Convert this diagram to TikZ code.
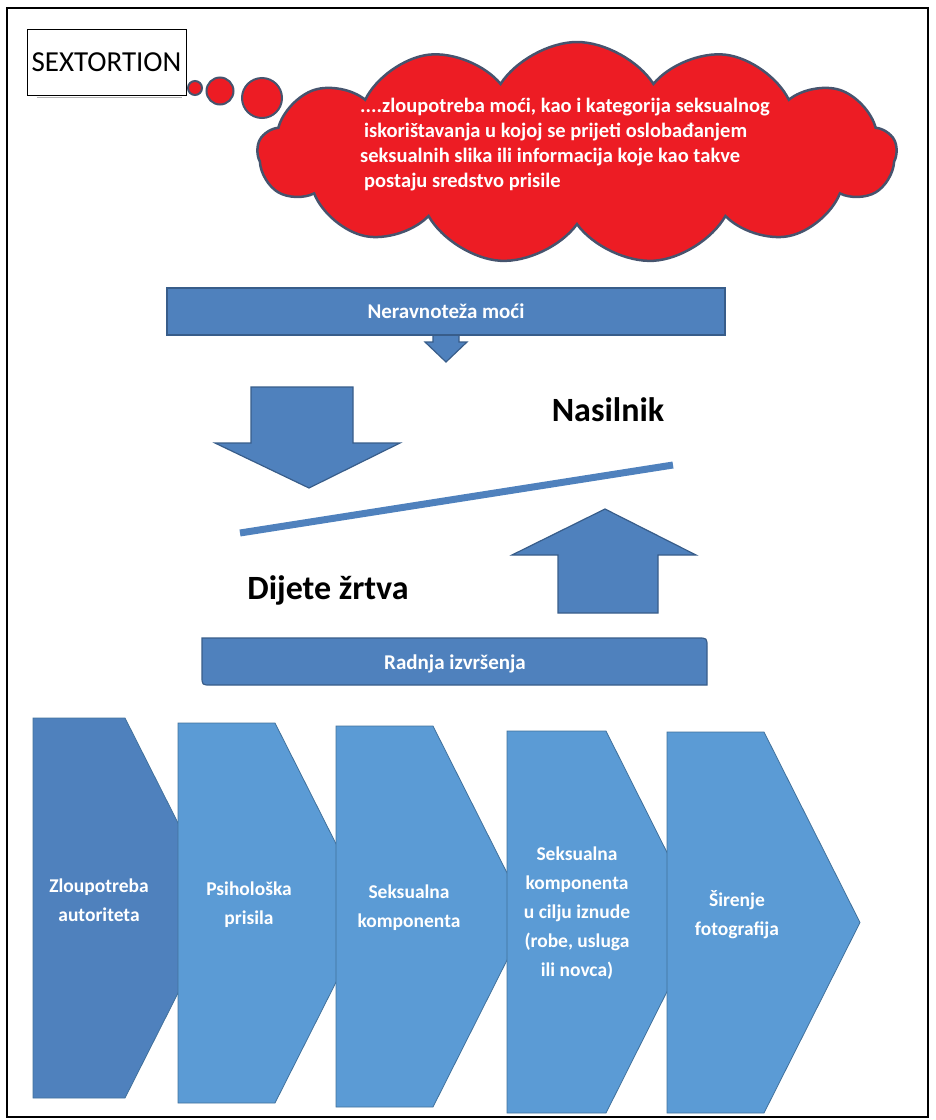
\documentclass[tikz,border=0pt]{standalone}
\usepackage{fontspec}
\setmainfont{Carlito}
\usetikzlibrary{shapes.symbols,positioning}

\definecolor{barblue}{RGB}{79,129,189}
\definecolor{barline}{RGB}{56,93,138}
\definecolor{stageblue}{RGB}{91,155,213}
\definecolor{stageline}{RGB}{65,113,156}
\definecolor{cloudred}{RGB}{237,28,36}
\definecolor{cloudline}{RGB}{70,84,110}

\begin{document}
\begin{tikzpicture}[x=1pt,y=-1pt]

		\tikzstyle{frame}=[draw=black,line width=2.5pt]
		\tikzstyle{titlebox}=[rectangle,draw=black,fill=white,
			line width=0.8pt,inner sep=0pt,
			minimum width=159pt,minimum height=66pt,
			font=\fontsize{29}{34}\selectfont]
		\tikzstyle{bubble}=[circle,fill=cloudred,draw=cloudline,
			line width=2pt,inner sep=0pt]
		\tikzstyle{thought}=[cloud,cloud puffs=13,cloud puff arc=115,
			aspect=2.9,fill=cloudred,draw=cloudline,line width=2.5pt,
			minimum width=639pt,minimum height=222pt]
		\tikzstyle{cloudtext}=[text=white,align=left,inner sep=0pt,
			font=\bfseries\fontsize{20.5}{25}\selectfont]
		\tikzstyle{bar}=[fill=barblue,draw=barline,line width=1.2pt]
		\tikzstyle{bartext}=[text=white,inner sep=0pt,
			font=\bfseries\fontsize{21}{25}\selectfont]
		\tikzstyle{bigword}=[text=black,inner sep=0pt,
			font=\bfseries\fontsize{34}{40}\selectfont]
		\tikzstyle{stage}=[fill=stageblue,draw=stageline,line width=0.8pt]
		\tikzstyle{stagetext}=[text=white,align=center,inner sep=0pt,
			font=\bfseries\fontsize{19.5}{29}\selectfont]

		\useasboundingbox (0,0) rectangle (936,1120);
		\draw[frame] (7,8) rectangle (928,1117);

		% title and thought cloud
		\node[titlebox] (title) at (106.5,62) {SEXTORTION};
		\draw[gray!60,line width=1.5pt] ([xshift=10pt,yshift=-2pt]title.south west)
			-- ([xshift=-4pt,yshift=-2pt]title.south east);
		\node[bubble,minimum size=14pt] (b1) at (195,88) {};
		\node[bubble,minimum size=27pt] (b2) at (220,91) {};
		\node[bubble,minimum size=40pt] (b3) at (262,98) {};
		\node[thought] (cloud) at (577,153) {};
		\node[cloudtext,anchor=west] (def) at (360,145)
			{....zloupotreba moći, kao i kategorija seksualnog\\
			\hspace*{4pt}iskorištavanja u kojoj se prijeti oslobađanjem\\
			seksualnih slika ili informacija koje kao takve\\
			\hspace*{4pt}postaju sredstvo prisile};

		% power imbalance
		\filldraw[bar] (433,330) -- (459,330) -- (459,342) -- (467,342)
			-- (446,362) -- (425,342) -- (433,342) -- cycle;
		\node[bar,bartext,rectangle,minimum width=558pt,minimum height=47pt]
			(power) at (446,311.5) {Neravnoteža moći};

		\filldraw[bar] (251,387) -- (353,387) -- (353,443) -- (400,443)
			-- (309,488) -- (215,443) -- (251,443) -- cycle;
		\node[bigword] (abuser) at (608,410) {Nasilnik};
		\draw[barblue,line width=7pt] (240,533) -- (673,465);
		\filldraw[bar] (558,613) -- (658,613) -- (658,555) -- (696,555)
			-- (605,509) -- (512,555) -- (558,555) -- cycle;
		\node[bigword] (victim) at (328,590) {Dijete žrtva};

		% act of offence
		\filldraw[bar] (202,638) -- (698,638) .. controls (707,638) .. (707,647)
			-- (707,685) -- (211,685) .. controls (202,685) .. (202,676) -- cycle;
		\node[bartext] (act) at (455,664) {Radnja izvršenja};

		% stages
		\foreach \l/\t/\b/\f/\c/\x/\y/\n/\txt in {
			33/718/1098/125/barblue/99/900/s1/{Zloupotreba\\autoriteta},
			178/723/1103/275/stageblue/249/905/s2/{Psihološka\\prisila},
			336/726/1107/433/stageblue/409/908/s3/{Seksualna\\komponenta},
			507/731/1113/606/stageblue/577/913/s4/{Seksualna\\komponenta\\u cilju iznude\\(robe, usluga\\ili novca)},
			667/732/1113/764/stageblue/737/915/s5/{Širenje\\fotografija}}
		{
			\filldraw[stage,fill=\c] (\l,\t) -- (\f,\t) -- ({\f+96},{(\t+\b)/2})
				-- (\f,\b) -- (\l,\b) -- cycle;
			\node[stagetext] (\n) at (\x,\y) {\txt};
		}

	\end{tikzpicture}
\end{document}
